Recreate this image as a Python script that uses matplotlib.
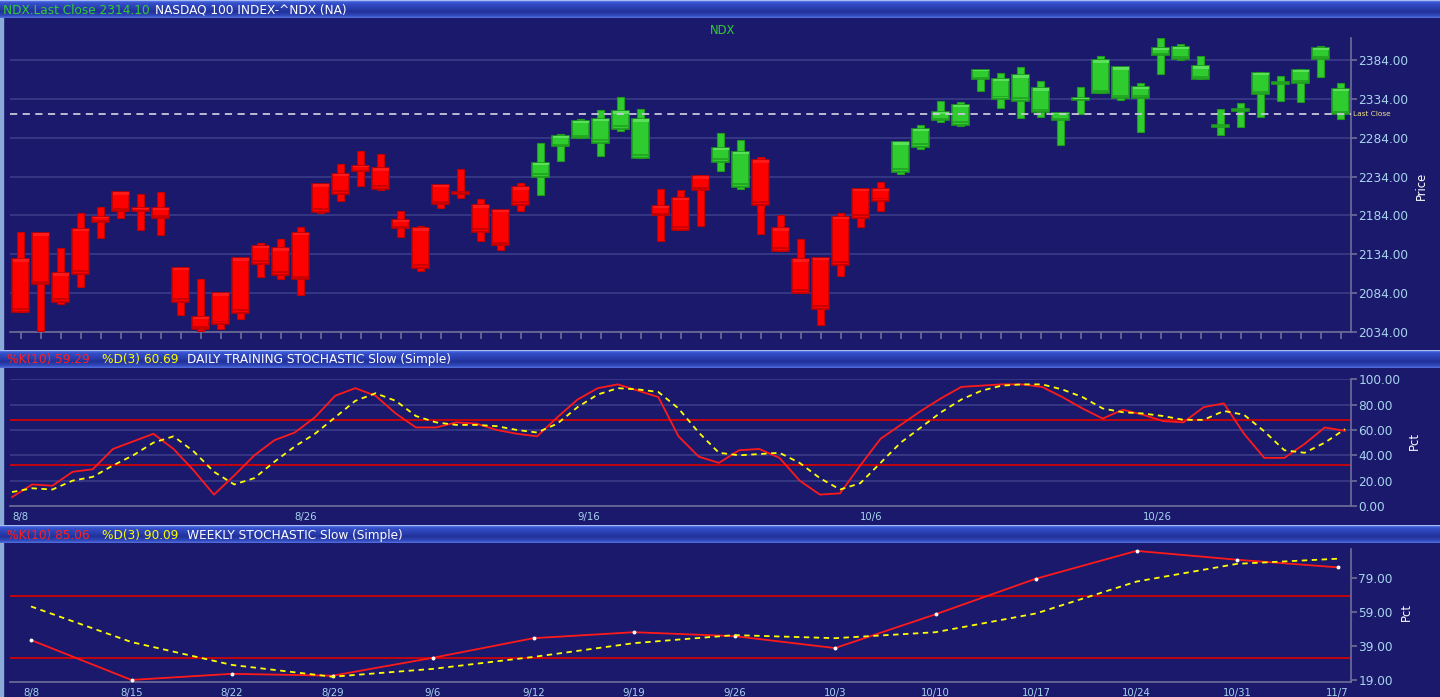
import numpy as np
import matplotlib
matplotlib.use('Agg')
import matplotlib.pyplot as plt

W, H = 1440, 697
BG = '#1A196B'
GRID = '#3A3C88'
SPINE = '#6E6E98'
TICKC = '#A8D4EE'

# ---------------- data ----------------
candle_high = [2162.4, 2161.2, 2141.8, 2186.9, 2194.7, 2213.6, 2211.4, 2213.6, 2118.2, 2102.7,
               2084.7, 2128.9, 2148.3, 2153.4, 2168.9, 2224.3, 2250.1, 2267.3, 2263.8, 2189.5,
               2170.6, 2223.5, 2243.6, 2205.8, 2191.7, 2225.2, 2277.2, 2289.2, 2308.1, 2319.3,
               2336.9, 2320.5, 2218.7, 2216.2, 2236.3, 2290.0, 2280.6, 2258.7, 2185.2, 2153.4,
               2129.4, 2186.9, 2217.9, 2226.9, 2278.0, 2300.4, 2331.3, 2330.0, 2371.7, 2366.9,
               2374.7, 2356.6, 2316.3, 2348.9, 2388.8, 2374.7, 2354.0, 2412.0, 2404.3, 2388.8,
               2321.0, 2328.7, 2369.1, 2363.9, 2372.1, 2402.2, 2354.5]
candle_low = [2059.8, 2035.3, 2070.1, 2092.0, 2154.7, 2180.9, 2165.0, 2159.0, 2055.5, 2035.3,
              2038.3, 2050.3, 2105.3, 2102.7, 2082.1, 2187.8, 2202.8, 2222.2, 2217.0, 2156.9,
              2112.6, 2193.4, 2206.3, 2151.3, 2139.7, 2189.9, 2210.6, 2254.4, 2283.2, 2260.0,
              2293.0, 2257.4, 2151.7, 2165.5, 2170.6, 2241.9, 2218.7, 2160.3, 2138.4, 2084.7,
              2043.0, 2106.2, 2169.3, 2189.9, 2237.6, 2269.4, 2305.0, 2299.0, 2344.6, 2322.3,
              2309.8, 2311.1, 2274.6, 2314.5, 2341.2, 2332.1, 2291.8, 2366.1, 2384.6, 2359.6,
              2287.5, 2298.2, 2311.1, 2331.3, 2329.6, 2362.6, 2308.1]
box_top = [2127.7, 2161.2, 2109.6, 2167.2, 2182.2, 2213.6, 2193.4, 2193.0, 2116.5, 2052.9,
           2083.8, 2128.9, 2144.8, 2141.8, 2161.6, 2224.3, 2237.2, 2247.5, 2244.5, 2177.9,
           2167.6, 2223.5, 2214.0, 2197.2, 2191.7, 2220.4, 2252.2, 2285.7, 2305.5, 2308.1,
           2318.0, 2307.7, 2196.4, 2206.3, 2234.6, 2270.7, 2266.0, 2255.2, 2167.6, 2127.7,
           2129.4, 2182.6, 2217.9, 2217.9, 2278.0, 2295.2, 2316.7, 2326.6, 2371.7, 2359.6,
           2364.4, 2347.6, 2316.3, 2334.7, 2383.7, 2374.7, 2348.9, 2399.2, 2400.5, 2376.0,
           2300.4, 2321.0, 2367.4, 2356.2, 2371.2, 2399.6, 2346.7]
box_bottom = [2059.8, 2095.4, 2072.7, 2108.8, 2176.2, 2189.5, 2190.0, 2180.9, 2072.7, 2037.9,
              2044.3, 2058.9, 2121.6, 2107.5, 2101.9, 2188.7, 2211.9, 2241.5, 2218.7, 2167.6,
              2116.5, 2198.5, 2212.0, 2163.3, 2145.7, 2197.7, 2233.8, 2272.9, 2283.6, 2277.6,
              2295.6, 2258.3, 2184.4, 2165.5, 2216.6, 2253.5, 2220.9, 2197.7, 2138.8, 2084.7,
              2064.1, 2120.8, 2180.9, 2202.8, 2240.6, 2272.4, 2307.2, 2300.8, 2359.6, 2333.9,
              2331.7, 2316.7, 2306.4, 2332.6, 2341.6, 2335.1, 2334.7, 2390.6, 2385.4, 2359.6,
              2298.6, 2318.4, 2339.9, 2354.0, 2354.0, 2385.4, 2314.1]
candle_trend = (['down'] * 26 + ['up'] * 6 + ['down'] * 3 + ['up'] * 2 +
                ['down'] * 7 + ['up'] * 23)
last_close = 2314.10
price_ticks = [2034, 2084, 2134, 2184, 2234, 2284, 2334, 2384]

daily_k = [7, 17, 16, 27, 29, 45, 51, 57, 45, 28, 9, 24, 40, 52, 58, 70, 87, 93, 87, 73,
           62, 62, 66, 65, 60, 57, 55, 70, 84, 93, 96, 91, 86, 55, 39, 34, 44, 45, 38, 20,
           9, 10, 32, 53, 64, 75, 85, 94, 95, 96, 96, 94, 86, 77, 69, 76, 72, 67, 66, 78,
           81, 57, 38, 38, 49, 62, 59.29]
daily_d = [11, 14, 13, 20, 23, 32, 40, 50, 55, 43, 27, 17, 22, 35, 47, 57, 70, 83, 89, 83,
           71, 66, 64, 64, 63, 60, 58, 65, 78, 88, 93, 92, 90, 77, 58, 42, 40, 41, 42, 34,
           22, 13, 18, 34, 50, 62, 74, 84, 91, 95, 96, 96, 92, 86, 77, 74, 73, 71, 68, 68,
           75, 72, 59, 44, 42, 50, 60.69]
daily_label_idx = [0, 14, 28, 42, 56]
daily_labels = ['8/8', '8/26', '9/16', '10/6', '10/26']
stoch_levels = [68, 32]

week_labels = ['8/8', '8/15', '8/22', '8/29', '9/6', '9/12', '9/19', '9/26', '10/3',
               '10/10', '10/17', '10/24', '10/31', '11/7']
week_k = [42.4, 19, 22.6, 21.5, 32, 43.5, 47, 44.7, 37.7, 57.5, 78.4, 94.7, 89.5, 85.06]
week_d = [62.1, 41.2, 27.8, 20.9, 25.5, 32.5, 40.6, 45.3, 43.5, 47, 58, 76.7, 87.1, 90.09]
week_ticks = [19, 39, 59, 79]

# ---------------- figure ----------------
fig = plt.figure(figsize=(W / 100, H / 100), dpi=100)
fig.patch.set_facecolor(BG)

bg = fig.add_axes([0, 0, 1, 1])
bg.set_xlim(0, W)
bg.set_ylim(H, 0)
bg.axis('off')
bg.set_facecolor(BG)
bg.add_patch(plt.Rectangle((0, 0), W, H, color=BG, zorder=0))
bg.add_patch(plt.Rectangle((0, 0), 2.5, H, color='#8AAAD8', zorder=1))


def header(y0, h):
    stops_y = [0, 0.07, 0.2, 0.65, 0.88, 1.0]
    cols = np.array([[0.80, 0.86, 1.0], [0.26, 0.38, 0.86], [0.20, 0.30, 0.78],
                     [0.13, 0.19, 0.60], [0.20, 0.29, 0.74], [0.32, 0.44, 0.88]])
    yy = np.linspace(0, 1, 40)
    grad = np.stack([np.interp(yy, stops_y, cols[:, c]) for c in range(3)], axis=-1)
    bg.imshow(grad[:, None, :], extent=[0, W, y0 + h, y0], aspect='auto', zorder=2,
              interpolation='bilinear')


header(0, 18)
header(350, 18)
header(525, 18)
bg.set_xlim(0, W)
bg.set_ylim(H, 0)

FS_H = 8.7


def seq_text(y, parts):
    for x, s, c in parts:
        bg.text(x, y, s, color=c, fontsize=FS_H, va='center', ha='left', zorder=5,
                family='DejaVu Sans')


seq_text(10, [(3, 'NDX.Last Close 2314.10', '#33CC33'),
              (155, 'NASDAQ 100 INDEX-^NDX (NA)', 'white')])
seq_text(360, [(7, '%K(10) 59.29', '#FF2020'), (102, '%D(3) 60.69', '#FFFF00'),
               (187, 'DAILY TRAINING STOCHASTIC Slow (Simple)', 'white')])
seq_text(535, [(7, '%K(10) 85.06', '#FF2020'), (102, '%D(3) 90.09', '#FFFF00'),
               (187, 'WEEKLY STOCHASTIC Slow (Simple)', 'white')])


def px_axes(x0, y0, x1, y1):
    ax = fig.add_axes([x0 / W, 1 - y1 / H, (x1 - x0) / W, (y1 - y0) / H])
    ax.set_facecolor('none')
    for s in ['top', 'left']:
        ax.spines[s].set_visible(False)
    ax.spines['right'].set_color(SPINE)
    ax.spines['bottom'].set_color(SPINE)
    ax.spines['right'].set_linewidth(1.2)
    ax.spines['bottom'].set_linewidth(1.2)
    ax.yaxis.tick_right()
    ax.tick_params(axis='y', colors=SPINE, labelcolor=TICKC, labelsize=8.7, length=4,
                   width=1.2, pad=1.5)
    ax.tick_params(axis='x', colors=SPINE, labelcolor=TICKC, labelsize=7.3, length=5,
                   width=1.2, pad=2)
    return ax


XL, XR = 10, 1350.7

# ---------------- price panel ----------------
axp = px_axes(XL, 38, XR, 332)
n = len(candle_high)
idx = np.arange(n)
axp.set_xlim((XL - 20.7) / 20, (XR - 20.7) / 20)
axp.set_ylim(2034, 2412.5)
axp.set_yticks(price_ticks)
axp.yaxis.set_major_formatter(matplotlib.ticker.FormatStrFormatter('%.2f'))
axp.set_xticks(idx)
axp.set_xticklabels([])
axp.grid(axis='y', color=GRID, lw=1.2)
axp.set_axisbelow(True)

fill = {'down': '#FF0000', 'up': '#2ECC2E'}
edge = {'down': '#C00000', 'up': '#1F9A1F'}
light = {'down': '#FF1A1A', 'up': '#5BE05B'}
dark = {'down': '#CC0000', 'up': '#22A822'}

bt = np.array(box_top)
bb = np.array(box_bottom)
hgt = np.maximum(bt - bb, 2.6)
base = np.where(bt - bb < 2.6, (bt + bb) / 2 - 1.3, bb)
cols_f = [fill[t] for t in candle_trend]
cols_e = [edge[t] for t in candle_trend]
axp.bar(idx, np.array(candle_high) - np.array(candle_low), bottom=candle_low, width=0.35,
        color=cols_f, edgecolor=cols_e, linewidth=0.8, zorder=3)
axp.bar(idx, hgt, bottom=base, width=0.87, color=cols_f, edgecolor=cols_e, linewidth=1.2,
        zorder=4)
# bevel shading
axp.bar(idx, np.minimum(hgt * 0.18, 3.0), bottom=base + hgt - np.minimum(hgt * 0.18, 3.0),
        width=0.80, color=[light[t] for t in candle_trend], linewidth=0, zorder=5)
axp.bar(idx, np.minimum(hgt * 0.15, 2.5), bottom=base + np.minimum(hgt * 0.12, 2.0),
        width=0.80, color=[dark[t] for t in candle_trend], linewidth=0, zorder=5)

axp.axhline(last_close, color='#C8C8DC', lw=1.3, ls=(0, (4, 3)), zorder=6)
axp.text(1.002, last_close, 'Last Close', transform=axp.get_yaxis_transform(),
         color='#F0E08C', fontsize=5.3, va='center', ha='left')
bg.text(723, 31, 'NDX', color='#33CC33', fontsize=8.3, ha='center', va='center')
bg.text(1421, 186, 'Price', color='white', fontsize=8.3, ha='center', va='center',
        rotation=90)

# ---------------- daily stochastic ----------------
axd = px_axes(XL, 379.3, XR, 506)
nd = len(daily_k)
sp = (1345 - 12) / (nd - 1)
axd.set_xlim((XL - 12) / sp, (XR - 12) / sp)
axd.set_ylim(0, 100)
axd.set_yticks([0, 20, 40, 60, 80, 100])
axd.yaxis.set_major_formatter(matplotlib.ticker.FormatStrFormatter('%.2f'))
axd.grid(axis='y', color=GRID, lw=1.2)
axd.set_axisbelow(True)
axd.set_xticks(daily_label_idx)
axd.set_xticklabels(daily_labels, ha='left')
axd.tick_params(axis='x', length=0, pad=4)
for lv in stoch_levels:
    axd.axhline(lv, color='#E00000', lw=1.2, zorder=2)
axd.plot(np.arange(nd), daily_k, color='#FF1A1A', lw=1.3, zorder=4)
axd.plot(np.arange(nd), daily_d, color='#FFFF00', lw=1.3, ls=(0, (3, 2.5)), zorder=5)
bg.text(1414, 441, 'Pct', color='white', fontsize=8.3, ha='center', va='center', rotation=90)

# ---------------- weekly stochastic ----------------
axw = px_axes(XL, 549, XR, 682)
nw = len(week_k)
wsp = (1337.5 - 31) / (nw - 1)
axw.set_xlim((XL - 31) / wsp, (XR - 31) / wsp)
axw.set_ylim(17.8, 95.8)
axw.set_yticks(week_ticks)
axw.yaxis.set_major_formatter(matplotlib.ticker.FormatStrFormatter('%.2f'))
axw.set_xticks(np.arange(nw))
axw.set_xticklabels(week_labels)
axw.tick_params(axis='x', length=0, pad=4)
for lv in stoch_levels:
    axw.axhline(lv, color='#E00000', lw=1.2, zorder=2)
axw.plot(np.arange(nw), week_k, color='#FF1A1A', lw=1.3, zorder=4, marker='o',
         markersize=1.8, markerfacecolor='white', markeredgecolor='white')
axw.plot(np.arange(nw), week_d, color='#FFFF00', lw=1.3, ls=(0, (3, 2.5)), zorder=5)
bg.text(1406, 612, 'Pct', color='white', fontsize=8.3, ha='center', va='center', rotation=90)

fig.savefig('out.png', dpi=100, facecolor=BG)
